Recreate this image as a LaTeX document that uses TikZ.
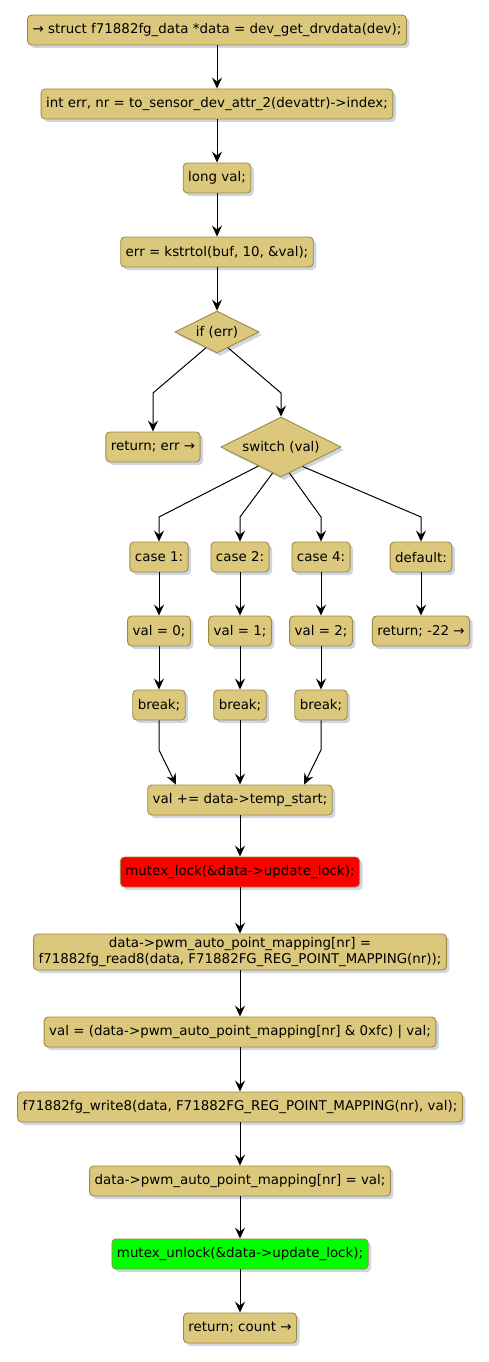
\documentclass[tikz,border=0pt]{standalone}
\usepackage{fontspec}
\setmainfont{DejaVu Sans}
\usetikzlibrary{arrows.meta,positioning,shapes.geometric,shadows}
\definecolor{ActYellow}{HTML}{DCC87C}
\definecolor{ActBorder}{HTML}{9C8A45}
\definecolor{ActShadow}{HTML}{9EAECA}
\definecolor{LockRed}{HTML}{FF0000}
\definecolor{UnlockGreen}{HTML}{00FF00}

\begin{document}
\begin{tikzpicture}[x=1pt,y=-1pt,
 act/.style={draw=ActBorder,fill=ActYellow,rounded corners=4pt,
 minimum height=30pt,inner xsep=5pt,line width=0.9pt,
 font=\fontsize{13.4}{16}\selectfont,
 drop shadow={shadow xshift=3pt,shadow yshift=-3pt,fill=ActShadow}},
 cond/.style={act,diamond,aspect=2,inner sep=0pt,sharp corners},
 flow/.style={-{Stealth[length=11pt,width=10pt,inset=4pt]},line width=1pt}]
\useasboundingbox (0,0) rectangle (489,1362);

% entry and setup
\node[act] (entry) at (217,30) {→ struct f71882fg\_data *data = dev\_get\_drvdata(dev);};
\node[act] (nrdecl) at (217,104) {int err, nr = to\_sensor\_dev\_attr\_2(devattr)->index;};
\node[act] (valdecl) at (217,178) {long val;};
\node[act] (parse) at (217,252) {err = kstrtol(buf, 10, \&val);};
\node[cond,minimum width=84pt,minimum height=42pt] (iferr) at (217,332) {if (err)};
\node[act] (reterr) at (153,447) {return; err →};
\node[cond,minimum width=120pt,minimum height=60pt] (switch) at (281,447) {switch (val)};

% switch cases
\foreach \nm/\x/\c/\v in {a/159/1/0,b/240/2/1,c/321/4/2} {
 \node[act] (case\nm) at (\x,557) {case \c:};
 \node[act] (set\nm) at (\x,631) {val = \v;};
 \node[act] (brk\nm) at (\x,705) {break;};
 \draw[flow] (case\nm) -- (set\nm);
 \draw[flow] (set\nm) -- (brk\nm);
}
\node[act] (dflt) at (421,557) {default:};
\node[act] (retinval) at (421,631) {return; -22 →};

% write back
\node[act] (addstart) at (240,800) {val += data->temp\_start;};
\node[act,fill=LockRed] (lock) at (240,872) {mutex\_lock(\&data->update\_lock);};
\node[act,align=center] (readmap) at (240,952) {data->pwm\_auto\_point\_mapping[nr] =\\f71882fg\_read8(data, F71882FG\_REG\_POINT\_MAPPING(nr));};
\node[act] (mask) at (240,1032) {val = (data->pwm\_auto\_point\_mapping[nr] \& 0xfc) | val;};
\node[act] (write) at (240,1107) {f71882fg\_write8(data, F71882FG\_REG\_POINT\_MAPPING(nr), val);};
\node[act] (store) at (240,1181) {data->pwm\_auto\_point\_mapping[nr] = val;};
\node[act,fill=UnlockGreen] (unlock) at (240,1254) {mutex\_unlock(\&data->update\_lock);};
\node[act] (retcount) at (240,1328) {return; count →};

\draw[flow] (entry) -- (nrdecl);
\draw[flow] (nrdecl) -- (valdecl);
\draw[flow] (valdecl) -- (parse);
\draw[flow] (parse) -- (iferr);
\draw[flow] (iferr.-125) -- (reterr.north |- 0,393) -- (reterr.north);
\draw[flow] (iferr.-55) -- (switch.north |- 0,393) -- (switch.north);
\foreach \a/\t in {-140/casea,-108/caseb,-72/casec,-42/dflt}
 \draw[flow] (switch.\a) -- (\t.north |- 0,517) -- (\t.north);
\draw[flow] (dflt) -- (retinval);
\draw[flow] (brka.south) -- (brka.south |- 0,750) -- ([xshift=-64pt]addstart.north);
\draw[flow] (brkb) -- (addstart);
\draw[flow] (brkc.south) -- (brkc.south |- 0,750) -- ([xshift=64pt]addstart.north);
\draw[flow] (addstart) -- (lock);
\draw[flow] (lock) -- (readmap);
\draw[flow] (readmap) -- (mask);
\draw[flow] (mask) -- (write);
\draw[flow] (write) -- (store);
\draw[flow] (store) -- (unlock);
\draw[flow] (unlock) -- (retcount);
\end{tikzpicture}
\end{document}
